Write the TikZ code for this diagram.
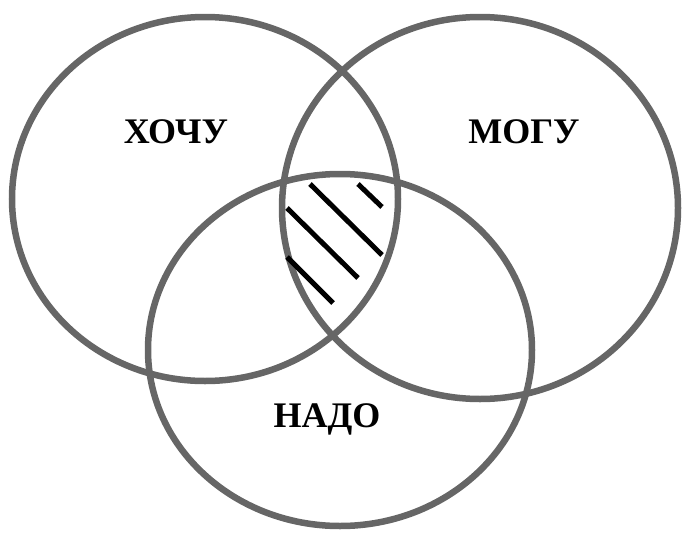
\documentclass[tikz,border=0pt]{standalone}
\usepackage{fontspec}
\setmainfont{Liberation Serif}
\begin{document}
\begin{tikzpicture}[x=1pt,y=-1pt,
  ring/.style={draw=black!60, line width=6.5pt},
  hatch/.style={draw=black, line width=5pt},
  lbl/.style={font=\bfseries\fontsize{36}{42}\selectfont, text=black}]
\useasboundingbox (0,0) rectangle (683,536);
\draw[ring] (205,199) ellipse [x radius=193, y radius=182];
\draw[ring] (480,208) ellipse [x radius=198, y radius=191];
\draw[ring] (340,350) ellipse [x radius=192, y radius=176];
\coordinate (h1a) at (310,184); \coordinate (h1b) at (382,255);
\coordinate (h2a) at (358,184); \coordinate (h2b) at (382,207);
\coordinate (h3a) at (287,208); \coordinate (h3b) at (358,278);
\coordinate (h4a) at (287,257); \coordinate (h4b) at (333,303);
\draw[hatch] (h1a) -- (h1b);
\draw[hatch] (h2a) -- (h2b);
\draw[hatch] (h3a) -- (h3b);
\draw[hatch] (h4a) -- (h4b);
\node[lbl] (want) at (176,132) {ХОЧУ};
\node[lbl] (can) at (524,132) {МОГУ};
\node[lbl] (need) at (327,419) {НАДО};
\end{tikzpicture}
\end{document}
